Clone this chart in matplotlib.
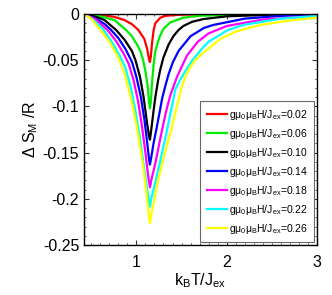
import matplotlib
matplotlib.use('Agg')
import matplotlib.pyplot as plt
from matplotlib.ticker import MultipleLocator

plt.rcParams['font.family'] = ['Liberation Sans', 'DejaVu Sans']
plt.rcParams['mathtext.default'] = 'regular'

# field values of the curves
fields = ['0.02', '0.06', '0.10', '0.14', '0.18', '0.22', '0.26']
colors = ['red', '#00ee00', 'black', 'blue', 'magenta', 'cyan', 'yellow']

# curves: temperature (k_B T/J_ex) and entropy change
t_red = [0.42, 0.6, 0.75, 0.867, 0.95, 1.02, 1.088, 1.12, 1.14, 1.15, 1.16, 1.173, 1.19, 1.21, 1.265, 1.32, 1.5, 2.0, 3.0]
s_red = [0, -0.001, -0.003, -0.0065, -0.011, -0.017, -0.027, -0.038, -0.049, -0.052, -0.046, -0.032, -0.018, -0.010, -0.004, -0.002, -0.0007, -0.0002, 0]

t_green = [0.42, 0.6, 0.757, 0.886, 0.95, 1.01, 1.044, 1.075, 1.10, 1.125, 1.14, 1.15, 1.16, 1.173, 1.19, 1.21, 1.24, 1.265, 1.3, 1.376, 1.52, 1.71, 2.2, 3.0]
s_green = [0, -0.0025, -0.0065, -0.0173, -0.024, -0.0335, -0.040, -0.050, -0.062, -0.078, -0.095, -0.102, -0.095, -0.075, -0.055, -0.040, -0.030, -0.023, -0.016, -0.009, -0.004, -0.0018, -0.0006, -0.0002]

t_black = [0.42, 0.55, 0.646, 0.776, 0.87, 0.95, 0.99, 1.04, 1.08, 1.118, 1.14, 1.15, 1.165, 1.19, 1.21, 1.24, 1.265, 1.30, 1.357, 1.41, 1.467, 1.52, 1.615, 1.74, 2.0, 2.5, 3.0]
s_black = [0, -0.003, -0.0065, -0.0173, -0.028, -0.040, -0.050, -0.068, -0.090, -0.118, -0.132, -0.136, -0.125, -0.105, -0.090, -0.072, -0.060, -0.047, -0.033, -0.024, -0.0173, -0.013, -0.0085, -0.0055, -0.0025, -0.0008, -0.0003]

t_blue = [0.42, 0.55, 0.65, 0.72, 0.8, 0.88, 0.952, 1.0, 1.05, 1.09, 1.118, 1.14, 1.15, 1.165, 1.19, 1.22, 1.26, 1.284, 1.32, 1.357, 1.405, 1.467, 1.6, 1.75, 1.85, 2.2, 2.6, 3.0]
s_blue = [0, -0.005, -0.011, -0.0173, -0.026, -0.038, -0.052, -0.068, -0.090, -0.115, -0.138, -0.157, -0.163, -0.155, -0.14, -0.1255, -0.105, -0.092, -0.078, -0.065, -0.052, -0.040, -0.024, -0.015, -0.0119, -0.005, -0.002, -0.001]

t_magenta = [0.42, 0.55, 0.68, 0.78, 0.86, 0.915, 0.97, 1.02, 1.06, 1.10, 1.13, 1.15, 1.165, 1.21, 1.25, 1.284, 1.33, 1.376, 1.45, 1.56, 1.68, 1.8, 2.0, 2.4, 3.0]
s_magenta = [0, -0.006, -0.0173, -0.030, -0.043, -0.054, -0.072, -0.095, -0.120, -0.150, -0.175, -0.1876, -0.18, -0.1616, -0.142, -0.1255, -0.105, -0.088, -0.068, -0.045, -0.030, -0.021, -0.013, -0.006, -0.002]

t_cyan = [0.42, 0.52, 0.64, 0.74, 0.82, 0.878, 0.94, 0.99, 1.04, 1.08, 1.12, 1.15, 1.165, 1.19, 1.258, 1.30, 1.34, 1.43, 1.48, 1.54, 1.62, 1.74, 1.80, 2.0, 2.18, 2.6, 3.0]
s_cyan = [0, -0.006, -0.0173, -0.032, -0.046, -0.058, -0.080, -0.105, -0.135, -0.163, -0.19, -0.2085, -0.20, -0.19, -0.1616, -0.143, -0.1255, -0.082, -0.072, -0.062, -0.050, -0.036, -0.030, -0.018, -0.0119, -0.005, -0.002]

t_yellow = [0.42, 0.5, 0.6, 0.7, 0.8, 0.87, 0.95, 1.0, 1.05, 1.08, 1.118, 1.14, 1.15, 1.17, 1.2, 1.235, 1.284, 1.33, 1.376, 1.456, 1.5, 1.55, 1.6, 1.65, 1.74, 1.93, 2.1, 2.37, 2.7, 3.0]
s_yellow = [0, -0.005, -0.0173, -0.030, -0.047, -0.065, -0.095, -0.12, -0.15, -0.168, -0.20, -0.22, -0.2265, -0.215, -0.20, -0.182, -0.163, -0.145, -0.129, -0.097, -0.080, -0.066, -0.057, -0.050, -0.042, -0.027, -0.019, -0.012, -0.007, -0.004]

temps = [t_red, t_green, t_black, t_blue, t_magenta, t_cyan, t_yellow]
entropies = [s_red, s_green, s_black, s_blue, s_magenta, s_cyan, s_yellow]

fig = plt.figure(figsize=(3.32, 2.95), dpi=100)
ax = fig.add_axes([84 / 332, 1 - 245 / 295, 233 / 332, 231 / 295])

for t, s, h, c in zip(temps, entropies, fields, colors):
    ax.plot(t, s, color=c, lw=1.6, label='g\u03bc$_0$\u03bc$_B$H/J$_{ex}$=' + h)

ax.set_xlim(0.42, 3)
ax.set_ylim(-0.25, 0)
ax.set_xticks([1, 2, 3])
ax.set_yticks([0, -0.05, -0.1, -0.15, -0.2, -0.25])
ax.set_yticklabels(['0', '-0.05', '-0.1', '-0.15', '-0.2', '-0.25'])
ax.xaxis.set_minor_locator(MultipleLocator(0.1))
ax.yaxis.set_minor_locator(MultipleLocator(0.01))
ax.tick_params(which='both', direction='in', top=True, right=True, labelsize=11.5, colors='#333333', labelcolor='black')
ax.tick_params(which='major', length=3.5, width=0.8)
ax.tick_params(which='minor', length=1.5, width=0.6)
ax.tick_params(axis='x', which='major', pad=7)
for sp in ax.spines.values():
    sp.set_linewidth(1.0)

ax.set_xlabel('k$_B$T/J$_{ex}$', fontsize=11.5, labelpad=1)
ax.set_ylabel('\u0394 S$_M$ /R', fontsize=11.5, labelpad=2)

leg = ax.legend(loc='lower right', fontsize=7.5, handlelength=1.9, handletextpad=0.2,
                labelspacing=0.48, borderpad=0.6, borderaxespad=0.3, fancybox=False, framealpha=1)
leg.get_frame().set_edgecolor('#666666')
leg.get_frame().set_linewidth(0.8)

fig.savefig('out.png', dpi=100)
